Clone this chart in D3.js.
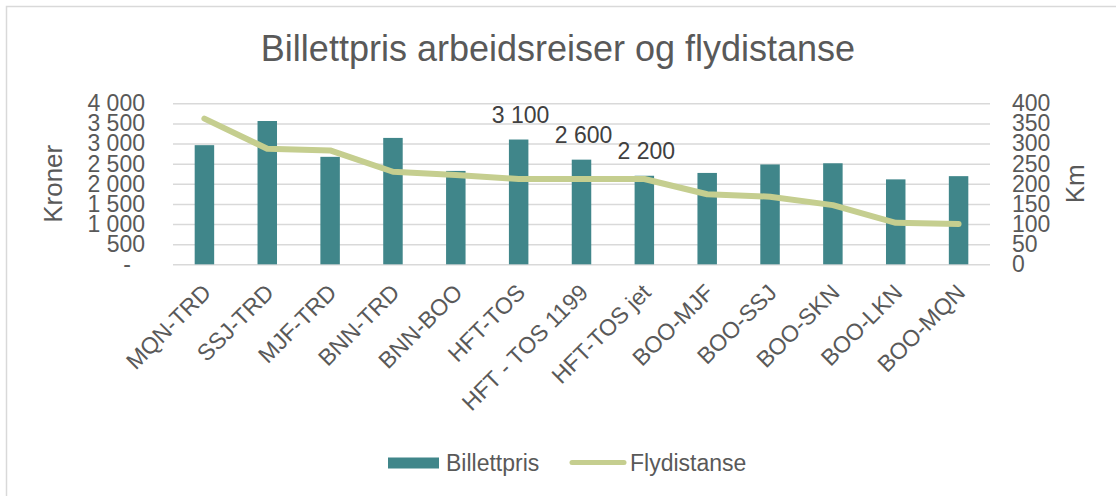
<!DOCTYPE html>
<html>
<head>
<meta charset="utf-8">
<script src="https://cdn.jsdelivr.net/npm/d3@7"></script>
<style>
  body { margin: 0; background: #fff; }
  svg { display: block; font-family: "Liberation Sans", Arial, sans-serif; }
</style>
</head>
<body>
<div id="chart"></div>
<script>
const routes = ['MQN-TRD', 'SSJ-TRD', 'MJF-TRD', 'BNN-TRD', 'BNN-BOO', 'HFT-TOS',
  'HFT - TOS 1199', 'HFT-TOS jet', 'BOO-MJF', 'BOO-SSJ', 'BOO-SKN', 'BOO-LKN', 'BOO-MQN'];
const billettpris = [2960, 3560, 2670, 3140, 2320, 3100, 2600, 2200, 2270, 2480, 2510, 2110, 2190];
const flydistanse = [362, 287, 283, 230, 222, 212, 212, 212, 174, 168, 147, 103, 100];
const labelled = ['HFT-TOS', 'HFT - TOS 1199', 'HFT-TOS jet'];
const kronerTicks = [0, 500, 1000, 1500, 2000, 2500, 3000, 3500, 4000];
const kmTicks = [0, 50, 100, 150, 200, 250, 300, 350, 400];

const width = 1116;
const height = 496;
const plot = { left: 173, right: 990, top: 103.3, bottom: 264.3 };
const barColor = '#40868a';
const lineColor = '#c5ce8f';
const textColor = '#595959';

const svg = d3.select('#chart').append('svg')
  .attr('width', width)
  .attr('height', height);

// chart frame
svg.append('rect')
  .attr('x', 6.5).attr('y', 6.5)
  .attr('width', 1300).attr('height', 700)
  .attr('fill', '#fff')
  .attr('stroke', '#d9d9d9')
  .attr('stroke-width', 1.5);

svg.append('text')
  .attr('x', width / 2).attr('y', 61)
  .attr('text-anchor', 'middle')
  .attr('fill', textColor)
  .style('font-size', '36px')
  .text('Billettpris arbeidsreiser og flydistanse');

const x = d3.scaleBand()
  .domain(routes)
  .range([plot.left, plot.right])
  .paddingInner(0.69)
  .paddingOuter(0.345);

const yKr = d3.scaleLinear().domain([0, 4000]).range([plot.bottom, plot.top]);
const yKm = d3.scaleLinear().domain([0, 400]).range([plot.bottom, plot.top]);

// gridlines
svg.append('g')
  .attr('transform', `translate(${plot.left},0)`)
  .call(d3.axisLeft(yKr).tickValues(kronerTicks).tickSize(-(plot.right - plot.left)).tickFormat(''))
  .call((g) => g.select('.domain').remove())
  .call((g) => g.selectAll('line').attr('stroke', '#d9d9d9').attr('stroke-width', 1.5));

// left axis labels
const fmtKr = (d) => (d === 0 ? '-' : d3.format(',')(d).replace(/,/g, ' '));
svg.append('g')
  .attr('transform', `translate(${plot.left},0)`)
  .call(d3.axisLeft(yKr).tickValues(kronerTicks).tickSize(0).tickPadding(28).tickFormat(fmtKr))
  .call((g) => g.select('.domain').remove())
  .call((g) => g.selectAll('text')
    .attr('fill', textColor)
    .style('font-size', '23px')
    .style('font-family', '"Liberation Sans", Arial, sans-serif')
    .attr('dx', (d) => (d === 0 ? -14 : 0)));

// right axis labels
svg.append('g')
  .attr('transform', `translate(${plot.right},0)`)
  .call(d3.axisRight(yKm).tickValues(kmTicks).tickSize(0).tickPadding(22))
  .call((g) => g.select('.domain').remove())
  .call((g) => g.selectAll('text')
    .attr('fill', textColor)
    .style('font-size', '23px')
    .style('font-family', '"Liberation Sans", Arial, sans-serif'));

// axis titles
svg.append('text')
  .attr('transform', `translate(62, ${(plot.top + plot.bottom) / 2}) rotate(-90)`)
  .attr('text-anchor', 'middle')
  .attr('fill', textColor)
  .style('font-size', '26px')
  .text('Kroner');

svg.append('text')
  .attr('transform', `translate(1084, ${(plot.top + plot.bottom) / 2}) rotate(-90)`)
  .attr('text-anchor', 'middle')
  .attr('fill', textColor)
  .style('font-size', '26px')
  .text('Km');

// bars
svg.append('g')
  .selectAll('rect')
  .data(routes)
  .join('rect')
  .attr('x', (d) => x(d))
  .attr('y', (d, i) => yKr(billettpris[i]))
  .attr('width', x.bandwidth())
  .attr('height', (d, i) => plot.bottom - yKr(billettpris[i]))
  .attr('fill', barColor);

// data labels
svg.append('g')
  .selectAll('text')
  .data(routes.filter((d) => labelled.includes(d)))
  .join('text')
  .attr('x', (d) => x(d) + x.bandwidth() / 2 + 2)
  .attr('y', (d) => yKr(billettpris[routes.indexOf(d)]) - 17)
  .attr('text-anchor', 'middle')
  .attr('fill', '#404040')
  .style('font-size', '23px')
  .text((d) => fmtKr(billettpris[routes.indexOf(d)]));

// category labels
svg.append('g')
  .selectAll('text')
  .data(routes)
  .join('text')
  .attr('transform', (d) => `translate(${x(d) + x.bandwidth() / 2 + 8}, 294) rotate(-45)`)
  .attr('text-anchor', 'end')
  .attr('fill', textColor)
  .style('font-size', '23px')
  .text((d) => d);

// distance line
const line = d3.line()
  .x((d, i) => x(routes[i]) + x.bandwidth() / 2)
  .y((d) => yKm(d));

svg.append('path')
  .datum(flydistanse)
  .attr('d', line)
  .attr('fill', 'none')
  .attr('stroke', lineColor)
  .attr('stroke-width', 6)
  .attr('stroke-linejoin', 'round')
  .attr('stroke-linecap', 'round');

// legend
const legend = svg.append('g');
legend.append('rect')
  .attr('x', 388).attr('y', 457.5)
  .attr('width', 51).attr('height', 11)
  .attr('fill', barColor);
legend.append('text')
  .attr('x', 446).attr('y', 471)
  .attr('fill', textColor)
  .style('font-size', '23px')
  .text('Billettpris');
legend.append('line')
  .attr('x1', 572).attr('x2', 624)
  .attr('y1', 462.5).attr('y2', 462.5)
  .attr('stroke', lineColor)
  .attr('stroke-width', 5)
  .attr('stroke-linecap', 'round');
legend.append('text')
  .attr('x', 630).attr('y', 471)
  .attr('fill', textColor)
  .style('font-size', '23px')
  .text('Flydistanse');
</script>
</body>
</html>
